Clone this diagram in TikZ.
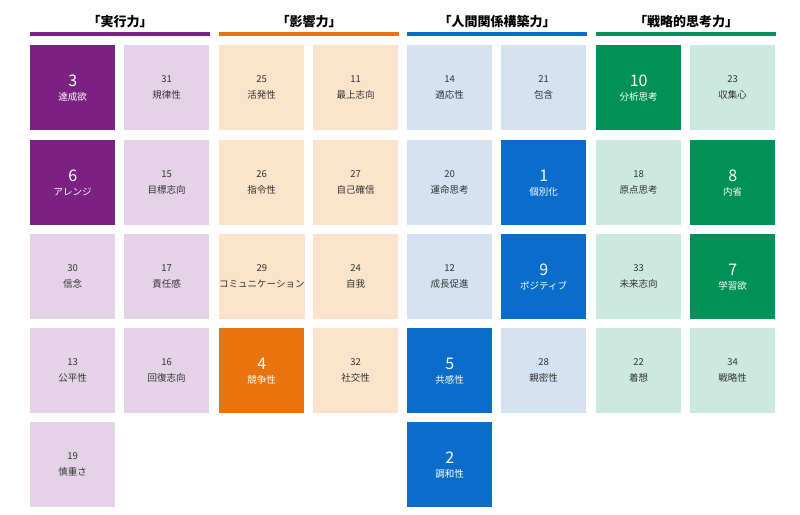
\documentclass[tikz,border=0pt]{standalone}
\usepackage{fontspec}
\setmainfont{Noto Sans CJK JP}
\definecolor{pD}{HTML}{7A2181}\definecolor{pL}{HTML}{E4D3E7}
\definecolor{oD}{HTML}{E9730C}\definecolor{oL}{HTML}{FCE3CB}
\definecolor{bD}{HTML}{0B6DCB}\definecolor{bL}{HTML}{D5E2F1}
\definecolor{gD}{HTML}{009156}\definecolor{gL}{HTML}{CCE9DF}
\definecolor{txt}{HTML}{333333}
\tikzset{x=1pt,y=-1pt,
 tileb/.style={minimum width=85pt,minimum height=85pt,inner sep=0pt,anchor=north west,fill=#1},
 hdr/.style={font=\fontsize{13}{15}\selectfont\bfseries,text=black}}
\newcommand{\lt}[6]{\node[tileb=#4,align=center,text=txt,font=\fontsize{9.5}{16}\selectfont] (#1) at (#2,#3) {#5\\#6};}
\newcommand{\dt}[6]{\node[tileb=#4,align=center,text=white] (#1) at (#2,#3) {{\fontsize{16}{20}\selectfont #5}\\[2pt]{\fontsize{9.5}{12}\selectfont #6}};}
\begin{document}
\begin{tikzpicture}
\useasboundingbox[fill=white] (0,0) rectangle (800,514);
\foreach \x/\c/\t [count=\i] in {30/pD/「実行力」,219/oD/「影響力」,407/bD/「人間関係構築力」,596/gD/「戦略的思考力」}{
 \node[hdr] (h\i) at (\x+90,22) {\t};
 \fill[\c] (\x,32) rectangle (\x+180,36);
}
\dt{a1}{30}{45}{pD}{3}{達成欲}
\dt{a2}{30}{140}{pD}{6}{アレンジ}
\lt{a3}{30}{234}{pL}{30}{信念}
\lt{a4}{30}{328}{pL}{13}{公平性}
\lt{a5}{30}{422}{pL}{19}{慎重さ}
\lt{b1}{124}{45}{pL}{31}{規律性}
\lt{b2}{124}{140}{pL}{15}{目標志向}
\lt{b3}{124}{234}{pL}{17}{責任感}
\lt{b4}{124}{328}{pL}{16}{回復志向}
\lt{c1}{219}{45}{oL}{25}{活発性}
\lt{c2}{219}{140}{oL}{26}{指令性}
\lt{c3}{219}{234}{oL}{29}{コミュニケーション}
\dt{c4}{219}{328}{oD}{4}{競争性}
\lt{d1}{313}{45}{oL}{11}{最上志向}
\lt{d2}{313}{140}{oL}{27}{自己確信}
\lt{d3}{313}{234}{oL}{24}{自我}
\lt{d4}{313}{328}{oL}{32}{社交性}
\lt{e1}{407}{45}{bL}{14}{適応性}
\lt{e2}{407}{140}{bL}{20}{運命思考}
\lt{e3}{407}{234}{bL}{12}{成長促進}
\dt{e4}{407}{328}{bD}{5}{共感性}
\dt{e5}{407}{422}{bD}{2}{調和性}
\lt{f1}{501}{45}{bL}{21}{包含}
\dt{f2}{501}{140}{bD}{1}{個別化}
\dt{f3}{501}{234}{bD}{9}{ポジティブ}
\lt{f4}{501}{328}{bL}{28}{親密性}
\dt{g1}{596}{45}{gD}{10}{分析思考}
\lt{g2}{596}{140}{gL}{18}{原点思考}
\lt{g3}{596}{234}{gL}{33}{未来志向}
\lt{g4}{596}{328}{gL}{22}{着想}
\lt{k1}{690}{45}{gL}{23}{収集心}
\dt{k2}{690}{140}{gD}{8}{内省}
\dt{k3}{690}{234}{gD}{7}{学習欲}
\lt{k4}{690}{328}{gL}{34}{戦略性}
\end{tikzpicture}
\end{document}
